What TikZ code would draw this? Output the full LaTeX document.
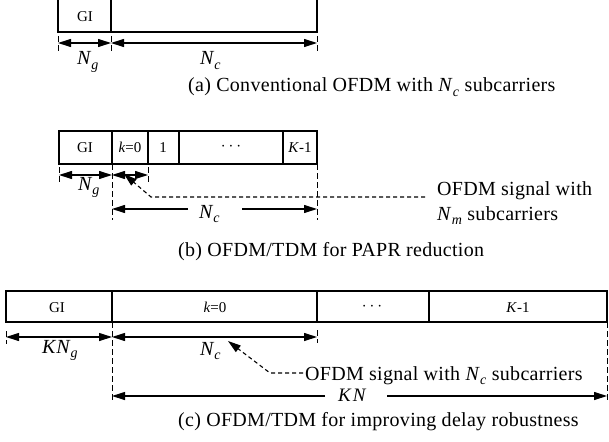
\documentclass[tikz,border=0pt]{standalone}
\usepackage{fontspec}
\setmainfont{Liberation Serif}
\usetikzlibrary{arrows.meta}
\newcommand{\symb}[2]{\textit{#1}\raisebox{-0.5ex}{\fontsize{14}{14}\selectfont\textit{#2}}}
\begin{document}
\begin{tikzpicture}[x=1pt,y=-1pt,
  frame/.style={line width=1.3pt},
  tip/.tip={Triangle[length=13pt,width=8pt]},
  dim/.style={line width=1.1pt,tip-tip},
  dimr/.style={line width=1.1pt,-tip},
  tickline/.style={line width=1pt,dash pattern=on 6pt off 3pt},
  lead/.style={line width=1.1pt,dash pattern=on 4pt off 3pt},
  leadarr/.style={lead,-tip},
  cell/.style={font=\fontsize{15}{17}\selectfont,inner sep=0pt,anchor=base},
  lbl/.style={font=\fontsize{20}{22}\selectfont,inner sep=0pt,anchor=base west},
  big/.style={font=\fontsize{20}{22}\selectfont\addfontfeatures{LetterSpace=1.5},inner sep=0pt,anchor=base west},
]
\useasboundingbox (0,0) rectangle (609,441);
\clip (0,0) rectangle (609,441);

% ---------------- (a)
\draw[frame] (58,-10) rectangle (317,32);
\draw[frame] (111,-10) -- (111,32);
\node[cell] (aGI) at (85,22) {GI};
\coordinate (a0) at (58,43);
\coordinate (a1) at (111,43);
\coordinate (a2) at (317,43);
\draw[tickline] (58,36) -- (58,52);
\draw[tickline] (111,36) -- (111,53);
\draw[tickline] (317,36) -- (317,53);
\draw[dim] (a0) -- (a1);
\draw[dim] (a1) -- (a2);
\node[lbl] (aNg) at (77,65) {\symb{N}{g}};
\node[lbl] (aNc) at (200,65) {\symb{N}{c}};
\node[big] (capa) at (188,92) {(a) Conventional OFDM with \symb{N}{c} subcarriers};

% ---------------- (b)
\draw[frame] (59,131) rectangle (317,164);
\foreach \x in {112,148,179,283} \draw[frame] (\x,131) -- (\x,164);
\node[cell] (bGI) at (85,152) {GI};
\node[cell] (bk0) at (130,152) {\textit{k}=0};
\node[cell] (b1) at (163,152) {1};
\node[cell,font=\fontsize{18}{18}\selectfont] (bdots) at (231,150) {$\cdots$};
\node[cell] (bK) at (300,152) {\textit{K}-1};
\coordinate (b0) at (59,175);
\coordinate (b1l) at (112,175);
\coordinate (b2) at (148,175);
\draw[tickline] (59,167) -- (59,183);
\draw[tickline] (148,167) -- (148,183);
\draw[tickline] (112,164) -- (112,220);
\draw[tickline] (317,164) -- (317,220);
\draw[dim] (b0) -- (b1l);
\draw[dim] (b1l) -- (b2);
\node[lbl] (bNg) at (78,190) {\symb{N}{g}};
\coordinate (bL) at (112,209);
\coordinate (bR) at (317,209);
\node[lbl] (bNc) at (199,218) {\symb{N}{c}};
\draw[dimr] (188,209) -- (bL);
\draw[dimr] (242,209) -- (bR);
\coordinate (btip) at (124,174);
\coordinate (bbend) at (151,197);
\coordinate (bend) at (425,197);
\draw[leadarr] (bend) -- (bbend) -- (btip);
\node[big] (bt1) at (437,195) {OFDM signal with};
\node[big] (bt2) at (437,220) {\symb{N}{m} subcarriers};
\node[big] (capb) at (178,256) {(b) OFDM/TDM for PAPR reduction};

% ---------------- (c)
\draw[frame] (6,291) rectangle (607,322);
\foreach \x in {112,317,429} \draw[frame] (\x,291) -- (\x,322);
\node[cell] (cGI) at (57,312) {GI};
\node[cell] (ck0) at (215,312) {\textit{k}=0};
\node[cell,font=\fontsize{18}{18}\selectfont] (cdots) at (372,310) {$\cdots$};
\node[cell] (cK) at (518,312) {\textit{K}-1};
\coordinate (c0) at (6,337);
\coordinate (c1) at (112,337);
\coordinate (c2) at (317,337);
\draw[tickline] (6,331) -- (6,344);
\draw[tickline] (317,330) -- (317,343);
\draw[tickline] (112,322) -- (112,402);
\draw[tickline] (607,322) -- (607,402);
\draw[dim] (c0) -- (c1);
\draw[dim] (c1) -- (c2);
\node[lbl] (cKNg) at (42,353) {\textit{K}\symb{N}{g}};
\node[lbl] (cNc) at (200,355) {\symb{N}{c}};
\coordinate (ctip) at (228,341);
\coordinate (cbend) at (270,373);
\coordinate (cend) at (303,373);
\draw[leadarr] (cend) -- (cbend) -- (ctip);
\node[big] (ct) at (305,380) {OFDM signal with \symb{N}{c} subcarriers};
\coordinate (cL) at (112,396);
\coordinate (cR) at (607,396);
\node[lbl,font=\fontsize{19}{21}\selectfont\addfontfeatures{LetterSpace=10}] (cKN) at (338,401) {\textit{KN}};
\draw[dimr] (325,396) -- (cL);
\draw[dimr] (387,396) -- (cR);
\node[big] (capc) at (178,426) {(c) OFDM/TDM for improving delay robustness};
\end{tikzpicture}
\end{document}
